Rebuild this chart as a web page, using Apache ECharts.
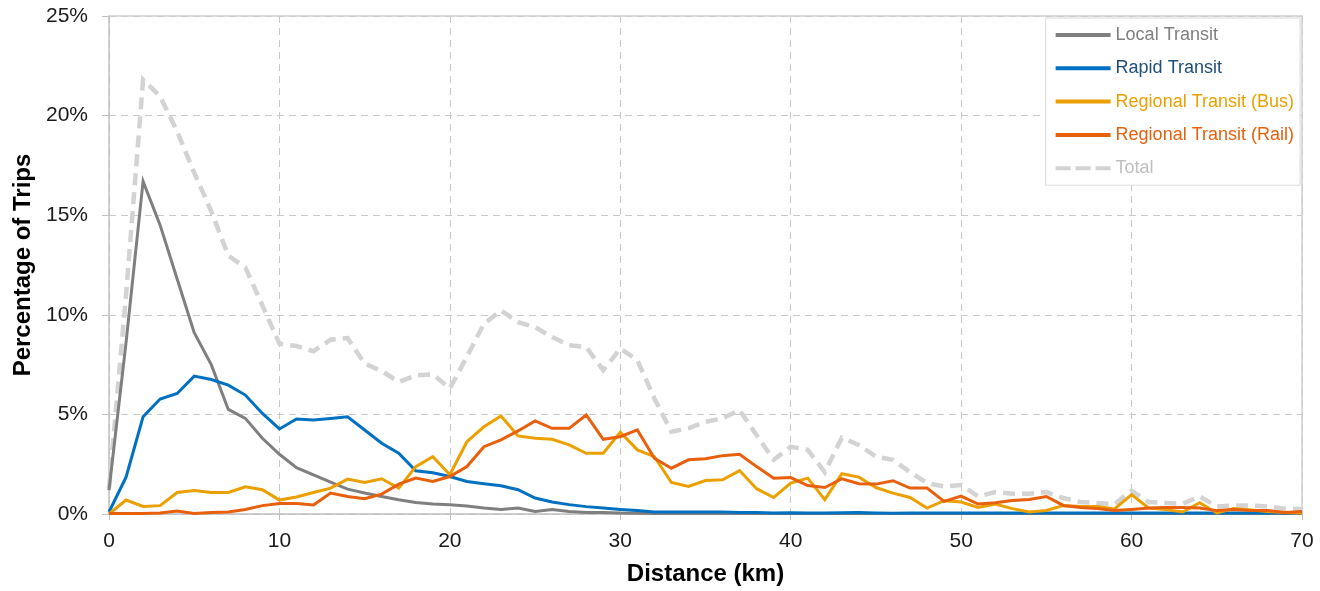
<!DOCTYPE html>
<html>
<head>
<meta charset="utf-8">
<script src="https://cdn.jsdelivr.net/npm/echarts@6/dist/echarts.min.js"></script>
<style>
html,body{margin:0;padding:0;background:#fff;}
#chart{width:1320px;height:591px;}
</style>
</head>
<body>
<div id="chart"></div>
<script>
var distances = [];
for (var d = 0; d <= 70; d++) distances.push(d);

var localTransit = [1.2, 8.6, 16.7, 14.5, 11.8, 9.1, 7.5, 5.25, 4.8, 3.8,
  3.0, 2.33, 1.97, 1.6, 1.25, 1.05, 0.88, 0.72, 0.58, 0.5,
  0.47, 0.4, 0.3, 0.23, 0.3, 0.13, 0.23, 0.13, 0.08, 0.08,
  0.05, 0.04, 0.03, 0.03, 0.03, 0.03, 0.03, 0.02, 0.02, 0.02,
  0.02, 0.02, 0.02, 0.02, 0.02, 0.02, 0.02, 0.02, 0.02, 0.02,
  0.02, 0.02, 0.02, 0.02, 0.02, 0.02, 0.02, 0.02, 0.02, 0.02,
  0.02, 0.02, 0.02, 0.02, 0.02, 0.02, 0.02, 0.02, 0.02, 0.02, 0.02];

var rapidTransit = [0.1, 1.85, 4.88, 5.77, 6.05, 6.92, 6.75, 6.47, 5.97, 5.05,
  4.27, 4.77, 4.72, 4.8, 4.88, 4.22, 3.55, 3.05, 2.17, 2.07,
  1.88, 1.63, 1.52, 1.42, 1.22, 0.8, 0.6, 0.47, 0.37, 0.3,
  0.23, 0.17, 0.1, 0.1, 0.1, 0.1, 0.1, 0.08, 0.07, 0.05,
  0.06, 0.05, 0.05, 0.06, 0.07, 0.05, 0.04, 0.05, 0.05, 0.05,
  0.05, 0.05, 0.05, 0.05, 0.05, 0.05, 0.05, 0.05, 0.05, 0.05,
  0.05, 0.05, 0.05, 0.05, 0.05, 0.05, 0.05, 0.05, 0.05, 0.05, 0.05];

var regionalBus = [0, 0.7, 0.38, 0.42, 1.08, 1.18, 1.08, 1.08, 1.37, 1.22,
  0.7, 0.85, 1.08, 1.3, 1.75, 1.58, 1.77, 1.3, 2.38, 2.88,
  1.97, 3.63, 4.38, 4.92, 3.92, 3.8, 3.75, 3.47, 3.05, 3.05,
  4.1, 3.22, 2.88, 1.58, 1.38, 1.68, 1.72, 2.18, 1.27, 0.83,
  1.55, 1.8, 0.72, 2.02, 1.85, 1.33, 1.05, 0.83, 0.3, 0.67,
  0.6, 0.33, 0.5, 0.27, 0.1, 0.18, 0.42, 0.38, 0.38, 0.25,
  0.97, 0.3, 0.22, 0.1, 0.57, 0.05, 0.27, 0.2, 0.13, 0.07, 0.05];

var regionalRail = [0.03, 0.02, 0.03, 0.05, 0.15, 0.03, 0.07, 0.1, 0.23, 0.42,
  0.53, 0.53, 0.45, 1.05, 0.88, 0.77, 1.0, 1.5, 1.8, 1.63,
  1.88, 2.38, 3.38, 3.72, 4.17, 4.67, 4.3, 4.3, 4.97, 3.75,
  3.88, 4.22, 2.8, 2.3, 2.72, 2.77, 2.93, 3.0, 2.38, 1.8,
  1.83, 1.43, 1.33, 1.77, 1.52, 1.5, 1.67, 1.3, 1.3, 0.63,
  0.9, 0.5, 0.57, 0.68, 0.73, 0.88, 0.43, 0.33, 0.27, 0.17,
  0.23, 0.3, 0.33, 0.33, 0.3, 0.17, 0.22, 0.17, 0.17, 0.07, 0.13];

var totalTrips = [1.3, 11.0, 21.8, 20.97, 19.2, 17.13, 15.2, 12.97, 12.38, 10.47,
  8.55, 8.43, 8.17, 8.75, 8.83, 7.55, 7.18, 6.63, 6.95, 7.02,
  6.3, 7.9, 9.55, 10.22, 9.63, 9.38, 8.88, 8.47, 8.38, 7.22,
  8.3, 7.72, 5.8, 4.13, 4.3, 4.63, 4.8, 5.22, 3.95, 2.72,
  3.38, 3.22, 2.1, 3.83, 3.47, 2.88, 2.72, 2.1, 1.55, 1.38,
  1.45, 0.88, 1.1, 1.02, 1.02, 1.1, 0.8, 0.6, 0.55, 0.5,
  1.17, 0.6, 0.55, 0.52, 0.88, 0.38, 0.43, 0.42, 0.38, 0.27, 0.25];

var seriesNames = ['Local Transit', 'Rapid Transit', 'Regional Transit (Bus)', 'Regional Transit (Rail)', 'Total'];
var seriesColors = ['#7f7f7f', '#0070c0', '#eba000', '#e8600c', '#d3d3d3'];
var legendTextColors = ['#7f7f7f', '#1f4e79', '#eba000', '#e8600c', '#bfbfbf'];

var solidIcon = 'path://M0,0h0.01v0.01h-0.01z M0,5h55v4h-55z M0,14h0.01v0.01h-0.01z';
var dashIcon = 'path://M0,0h0.01v0.01h-0.01z M0,5h15v4h-15z M20,5h15v4h-15z M40,5h15v4h-15z M0,14h0.01v0.01h-0.01z';

function pairs(arr) {
  return distances.map(function (x, i) { return [x, arr[i]]; });
}

var dataSets = [localTransit, rapidTransit, regionalBus, regionalRail, totalTrips];

var series = dataSets.map(function (arr, i) {
  var isTotal = i === 4;
  return {
    name: seriesNames[i],
    type: 'line',
    data: pairs(arr),
    showSymbol: false,
    symbol: 'none',
    z: isTotal ? 1 : 2 + i,
    lineStyle: {
      color: seriesColors[i],
      width: isTotal ? 4.5 : 3,
      type: isTotal ? [12, 7] : 'solid',
      cap: 'butt',
      join: 'miter'
    },
    itemStyle: { color: seriesColors[i] },
    emphasis: { disabled: true },
    animation: false
  };
});

var chart = echarts.init(document.getElementById('chart'), null, { renderer: 'canvas' });
chart.setOption({
  animation: false,
  backgroundColor: '#ffffff',
  textStyle: { fontFamily: 'Arial, "Liberation Sans", sans-serif' },
  grid: { left: 109, right: 18, top: 16, bottom: 75, containLabel: false },
  legend: {
    orient: 'vertical',
    right: 20,
    top: 18,
    padding: [8, 6, 8, 10],
    backgroundColor: '#ffffff',
    borderColor: '#d9d9d9',
    borderWidth: 1,
    itemWidth: 55,
    itemHeight: 14,
    itemGap: 15.3,
    textStyle: { fontSize: 18, fontFamily: 'Arial, "Liberation Sans", sans-serif' },
    data: seriesNames.map(function (n, i) {
      return { name: n, icon: i === 4 ? dashIcon : solidIcon, textStyle: { color: legendTextColors[i] } };
    })
  },
  xAxis: [{
    type: 'value',
    min: 0, max: 70, interval: 10,
    name: 'Distance (km)',
    nameLocation: 'middle',
    nameGap: 48,
    nameTextStyle: { fontSize: 24, fontWeight: 'bold', color: '#000' },
    axisLine: { show: true, lineStyle: { color: '#bfbfbf', width: 1.5 } },
    axisTick: { show: true, length: 6, lineStyle: { color: '#bfbfbf' } },
    axisLabel: { fontSize: 21, color: '#1a1a1a', margin: 17 },
    splitLine: { show: true, lineStyle: { color: '#c8c8c8', type: [7, 5], width: 1 } }
  }, {
    type: 'value', position: 'top',
    min: 0, max: 70, interval: 10,
    axisLine: { show: true, onZero: false, lineStyle: { color: '#d0d0d0', width: 1.5 } },
    axisTick: { show: false }, axisLabel: { show: false }, splitLine: { show: false }
  }],
  yAxis: [{
    type: 'value',
    min: 0, max: 25, interval: 5,
    name: 'Percentage of Trips',
    nameLocation: 'middle',
    nameGap: 73,
    nameTextStyle: { fontSize: 24, fontWeight: 'bold', color: '#000' },
    axisLine: { show: true, lineStyle: { color: '#bfbfbf', width: 1.5 } },
    axisTick: { show: true, length: 7, lineStyle: { color: '#bfbfbf' } },
    axisLabel: { fontSize: 21, color: '#1a1a1a', margin: 21, formatter: '{value}%' },
    splitLine: { show: true, lineStyle: { color: '#c8c8c8', type: [7, 5], width: 1 } }
  }, {
    type: 'value', position: 'right',
    min: 0, max: 25, interval: 5,
    axisLine: { show: true, onZero: false, lineStyle: { color: '#d0d0d0', width: 1.5 } },
    axisTick: { show: false }, axisLabel: { show: false }, splitLine: { show: false }
  }],
  series: series
});
</script>
</body>
</html>
